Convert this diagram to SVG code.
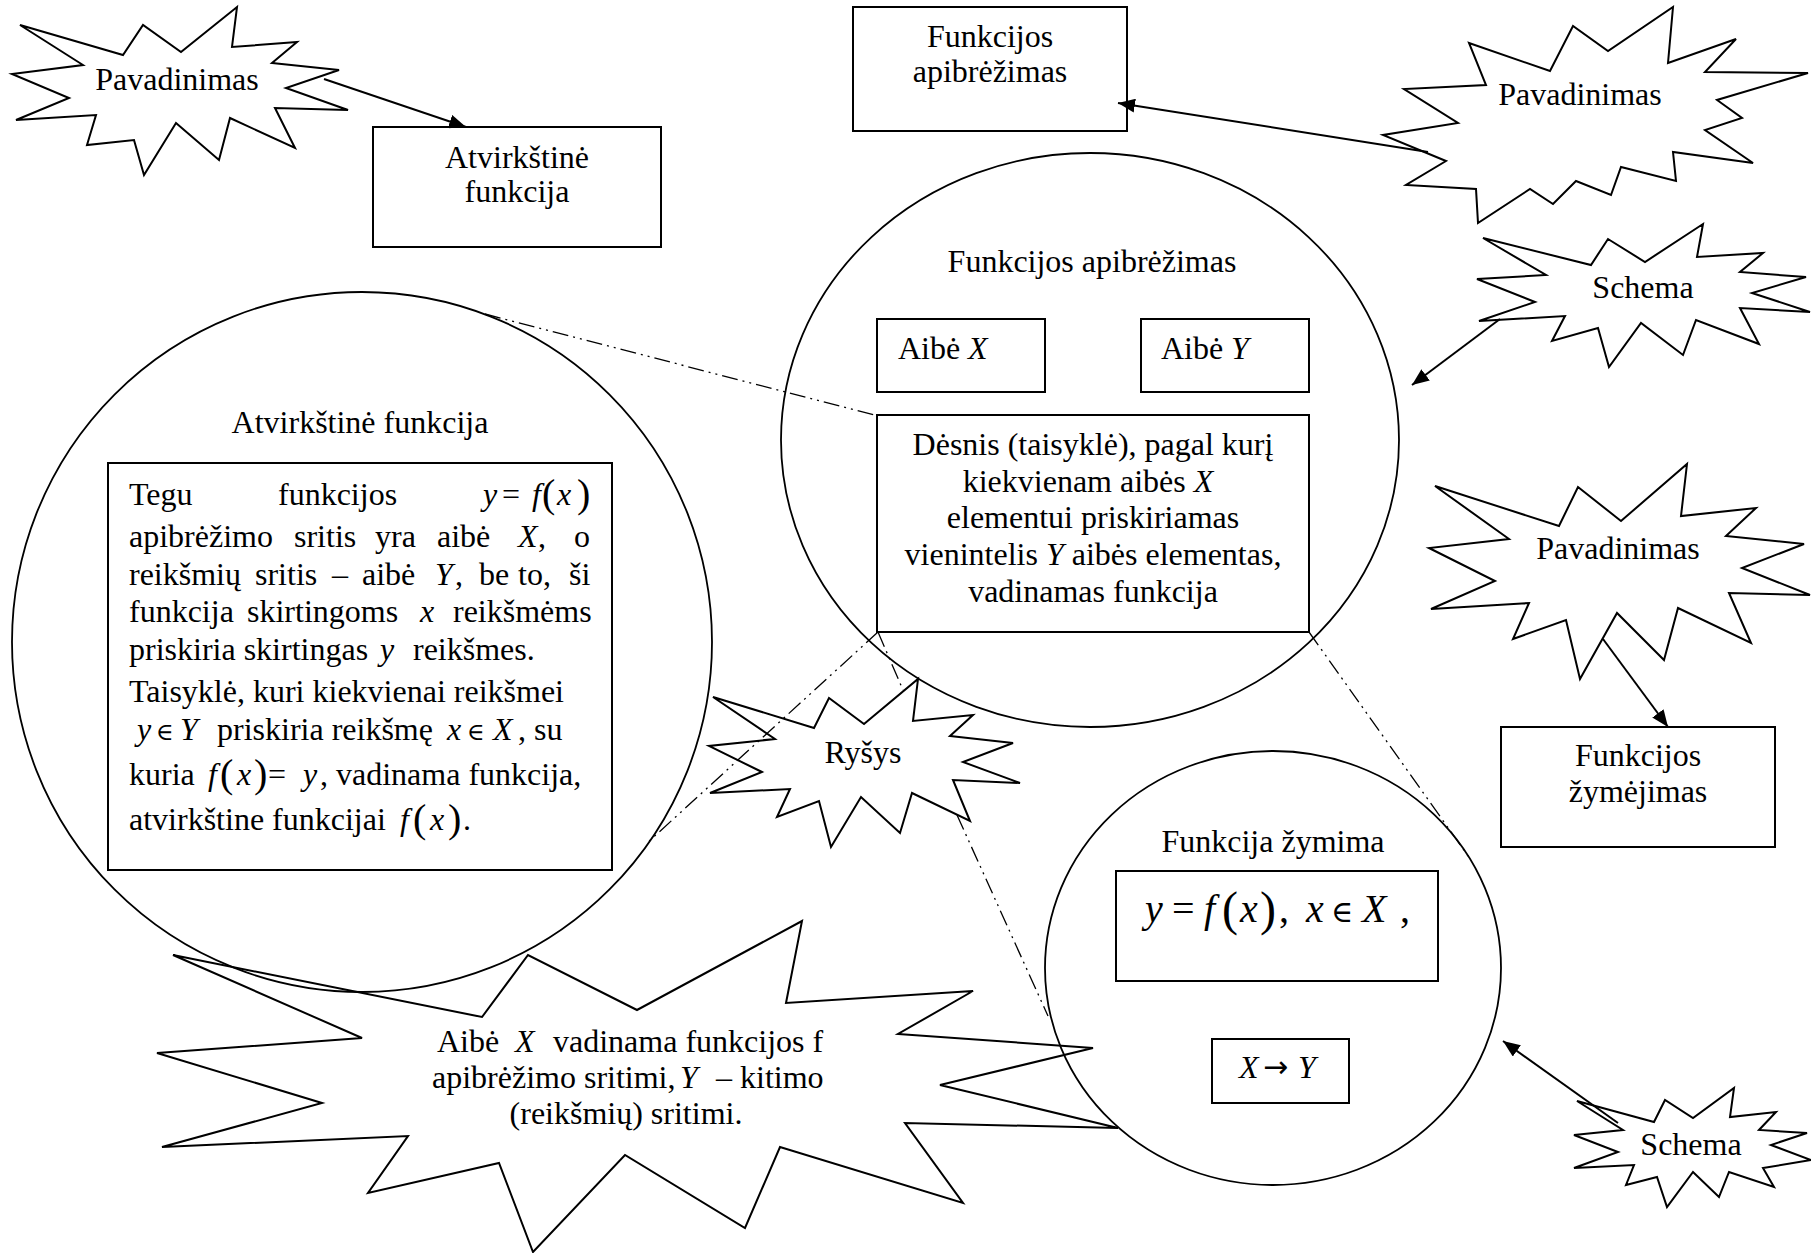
<svg xmlns="http://www.w3.org/2000/svg" width="1811" height="1253" viewBox="0 0 1811 1253">
<defs>
<style>
text { font-family: "Liberation Serif", "Times New Roman", serif; font-size: 32px; fill: #000; }
.c { text-anchor: middle; }
.i { font-style: italic; }
.p { font-size: 40px; }
.f { font-size: 40px; }
.fp { font-size: 48px; }
.el { font-family: "DejaVu Serif", serif; font-size: 24px; }
.elf { font-family: "DejaVu Serif", serif; font-size: 30px; }
.to { font-family: "DejaVu Sans", sans-serif; font-size: 30px; }
.star { fill: none; stroke: #000; stroke-width: 2; stroke-linejoin: miter; }
.box { fill: none; stroke: #000; stroke-width: 2; }
.ell { fill: none; stroke: #000; stroke-width: 1.8; }
.dash { fill: none; stroke: #000; stroke-width: 1.3; stroke-dasharray: 16 5 2 5 2 5; }
.arr { fill: none; stroke: #000; stroke-width: 2; marker-end: url(#ah); }
</style>
<marker id="ah" markerUnits="userSpaceOnUse" markerWidth="18" markerHeight="14" refX="17" refY="7" orient="auto">
<path d="M0,0 L17,7 L0,14 z" fill="#000"/>
</marker>
</defs>
<rect width="1811" height="1253" fill="#fff"/>

<!-- connectors -->
<g id="connectors">
<line class="arr" x1="324" y1="79" x2="466" y2="127"/>
<line class="arr" x1="1428" y1="152" x2="1118" y2="103"/>
<line class="arr" x1="1500" y1="319" x2="1412" y2="385"/>
<line class="arr" x1="1603" y1="639" x2="1668" y2="727"/>
<line class="arr" x1="1618" y1="1123" x2="1503" y2="1041"/>
<line class="dash" x1="485" y1="314" x2="878" y2="416"/>
<line class="dash" x1="878" y1="632" x2="646" y2="844"/>
<line class="dash" x1="878" y1="632" x2="903" y2="690"/>
<line class="dash" x1="957" y1="815" x2="1048" y2="1016"/>
<line class="dash" x1="1309" y1="632" x2="1471" y2="860"/>
</g>

<!-- top-left label burst -->
<g id="burst-pavadinimas-1">
<polygon class="star" points="20,25 123,55 143,25 181,52 237,7 232,47 297,42 272,63 339,70 286,88 348,110 275,108 295,148 230,118 219,160 176,123 144,175 134,140 87,145 96,115 16,120 69,98 12,74 83,65"/>
<text class="c" x="177" y="90">Pavadinimas</text>
</g>

<g id="box-atvirkstine">
<rect class="box" x="373" y="127" width="288" height="120"/>
<text class="c" x="517" y="168">Atvirkštinė</text>
<text class="c" x="517" y="202">funkcija</text>
</g>

<g id="box-apibrezimas">
<rect class="box" x="853" y="7" width="274" height="124"/>
<text class="c" x="990" y="47">Funkcijos</text>
<text class="c" x="990" y="82">apibrėžimas</text>
</g>

<g id="burst-pavadinimas-2">
<polygon class="star" points="1469,43 1550,71 1573,26 1608,51 1673,7 1668,63 1736,39 1705,72 1808,73 1717,100 1742,118 1705,130 1753,163 1673,152 1676,181 1621,167 1611,195 1576,181 1553,204 1530,189 1478,223 1476,189 1406,185 1446,161 1383,135 1458,123 1404,89 1486,85"/>
<text class="c" x="1580" y="105">Pavadinimas</text>
</g>

<g id="burst-schema-1">
<polygon class="star" points="1483,238 1591,265 1608,239 1645,262 1703,224 1697,257 1763,253 1740,272 1806,277 1752,293 1810,312 1740,308 1759,344 1696,320 1683,355 1641,323 1609,367 1598,328 1552,341 1565,316 1479,321 1535,302 1477,279 1546,275"/>
<text class="c" x="1643" y="298">Schema</text>
</g>

<!-- definition ellipse -->
<g id="ellipse-apibrezimas">
<ellipse class="ell" cx="1090" cy="440" rx="309" ry="287"/>
<text class="c" x="1092" y="272">Funkcijos apibrėžimas</text>
<rect class="box" x="877" y="319" width="168" height="73"/>
<text x="898" y="359">Aibė <tspan class="i" x="968">X</tspan></text>
<rect class="box" x="1141" y="319" width="168" height="73"/>
<text x="1161" y="359">Aibė <tspan class="i" x="1231">Y</tspan></text>
<rect class="box" x="877" y="415" width="432" height="217"/>
<text class="c" x="1093" y="455">Dėsnis (taisyklė), pagal kurį</text>
<text class="c" x="1088" y="492">kiekvienam aibės  <tspan class="i">X</tspan> </text>
<text class="c" x="1093" y="528">elementui priskiriamas</text>
<text class="c" x="1093" y="565">vienintelis  <tspan class="i">Y</tspan>  aibės elementas,</text>
<text class="c" x="1093" y="602">vadinamas funkcija</text>
</g>

<!-- inverse function circle -->
<g id="circle-atvirkstine">
<circle class="ell" cx="362" cy="642" r="350"/>
<text class="c" x="360" y="433">Atvirkštinė funkcija</text>
<rect class="box" x="108" y="463" width="504" height="407"/>
<text y="505"><tspan x="129">Tegu</tspan><tspan x="278">funkcijos</tspan><tspan class="i" x="483">y</tspan><tspan x="502">=</tspan><tspan class="i" x="532">f</tspan><tspan class="p" x="542" dy="2">(</tspan><tspan class="i" x="557" dy="-2">x</tspan><tspan class="p" x="577" dy="2">)</tspan></text>
<text y="547"><tspan x="129">apibrėžimo</tspan><tspan x="294">sritis</tspan><tspan x="375">yra</tspan><tspan x="437">aibė</tspan><tspan class="i" x="518">X</tspan><tspan x="538">,</tspan><tspan x="574">o</tspan></text>
<text y="585"><tspan x="129">reikšmių</tspan><tspan x="255">sritis</tspan><tspan x="332">–</tspan><tspan x="362">aibė</tspan><tspan class="i" x="435">Y</tspan><tspan x="455">,</tspan><tspan x="479">be</tspan><tspan x="518">to,</tspan><tspan x="569">ši</tspan></text>
<text y="622"><tspan x="129">funkcija</tspan><tspan x="247">skirtingoms</tspan><tspan class="i" x="420">x</tspan><tspan x="453">reikšmėms</tspan></text>
<text y="660"><tspan x="129">priskiria skirtingas</tspan><tspan class="i" x="380">y</tspan><tspan x="413">reikšmes.</tspan></text>
<text x="129" y="702">Taisyklė, kuri kiekvienai reikšmei</text>
<text y="740"><tspan class="i" x="137">y</tspan><tspan class="el" x="156">∈</tspan><tspan class="i" x="180">Y</tspan><tspan x="217">priskiria reikšmę</tspan><tspan class="i" x="447">x</tspan><tspan class="el" x="467">∈</tspan><tspan class="i" x="493">X</tspan><tspan x="518">, su</tspan></text>
<text y="785"><tspan x="129">kuria</tspan><tspan class="i" x="208">f</tspan><tspan class="p" x="220" dy="2">(</tspan><tspan class="i" x="237" dy="-2">x</tspan><tspan class="p" x="254" dy="2">)</tspan><tspan x="268" dy="-2">=</tspan><tspan class="i" x="303">y</tspan><tspan x="320">, vadinama funkcija,</tspan></text>
<text y="830"><tspan x="129">atvirkštine funkcijai</tspan><tspan class="i" x="400">f</tspan><tspan class="p" x="413" dy="2">(</tspan><tspan class="i" x="430" dy="-2">x</tspan><tspan class="p" x="448" dy="2">)</tspan><tspan x="463" dy="-2">.</tspan></text>
</g>

<g id="burst-pavadinimas-3">
<polygon class="star" points="1435,486 1559,526 1578,487 1621,521 1687,464 1681,516 1756,508 1726,536 1804,544 1742,568 1810,595 1729,593 1751,643 1678,608 1664,660 1617,613 1580,679 1566,620 1513,639 1529,603 1431,609 1495,581 1429,548 1509,539"/>
<text class="c" x="1618" y="559">Pavadinimas</text>
</g>

<g id="box-zymejimas">
<rect class="box" x="1501" y="727" width="274" height="120"/>
<text class="c" x="1638" y="766">Funkcijos</text>
<text class="c" x="1638" y="802">žymėjimas</text>
</g>

<g id="burst-rysys">
<polygon class="star" points="713,697 814,728 829,698 864,724 918,679 913,721 973,715 950,736 1013,743 963,762 1020,783 953,780 970,821 912,793 900,833 861,797 831,847 819,801 777,817 790,789 710,793 762,772 709,746 775,739"/>
<text class="c" x="863" y="763">Ryšys</text>
</g>

<!-- notation ellipse -->
<g id="ellipse-zymima">
<ellipse class="ell" cx="1273" cy="968" rx="228" ry="217"/>
<text class="c" x="1273" y="852">Funkcija žymima</text>
<rect class="box" x="1116" y="871" width="322" height="110"/>
<text y="922"><tspan class="i f" x="1145">y</tspan><tspan class="f" x="1172">=</tspan><tspan class="i f" x="1204">f</tspan><tspan class="fp" x="1222" dy="3">(</tspan><tspan class="i f" x="1240" dy="-3">x</tspan><tspan class="fp" x="1260" dy="3">)</tspan><tspan class="f" x="1279" dy="-3">,</tspan><tspan class="i f" x="1306">x</tspan><tspan class="elf" x="1331">∈</tspan><tspan class="i f" x="1362">X</tspan><tspan class="f" x="1400">,</tspan></text>
<rect class="box" x="1212" y="1039" width="137" height="64"/>
<text y="1078"><tspan class="i" x="1239">X</tspan><tspan class="to" x="1263" dy="-1">→</tspan><tspan class="i" x="1298" dy="1">Y</tspan></text>
</g>

<g id="burst-schema-2">
<polygon class="star" points="1577,1101 1654,1122 1665,1100 1693,1118 1734,1088 1730,1117 1776,1112 1759,1130 1807,1133 1771,1145 1811,1160 1763,1168 1774,1187 1729,1172 1719,1197 1693,1172 1667,1207 1657,1177 1626,1185 1634,1165 1574,1168 1618,1152 1574,1135 1623,1130"/>
<text class="c" x="1691" y="1155">Schema</text>
</g>

<!-- domain / range burst -->
<g id="burst-sritis">
<polygon class="star" points="173,955 482,1017 528,955 637,1010 802,921 786,1003 973,991 898,1034 1093,1048 940,1085 1118,1128 905,1123 963,1203 780,1147 745,1228 625,1155 533,1252 499,1163 368,1193 408,1136 162,1147 322,1103 157,1053 362,1038"/>
<text y="1052"><tspan x="437">Aibė</tspan><tspan class="i" x="515">X</tspan><tspan x="553">vadinama funkcijos f</tspan></text>
<text y="1088"><tspan x="432">apibrėžimo sritimi,</tspan><tspan class="i" x="680">Y</tspan><tspan x="716">– kitimo</tspan></text>
<text class="c" x="626" y="1124">(reikšmių) sritimi.</text>
</g>
</svg>
